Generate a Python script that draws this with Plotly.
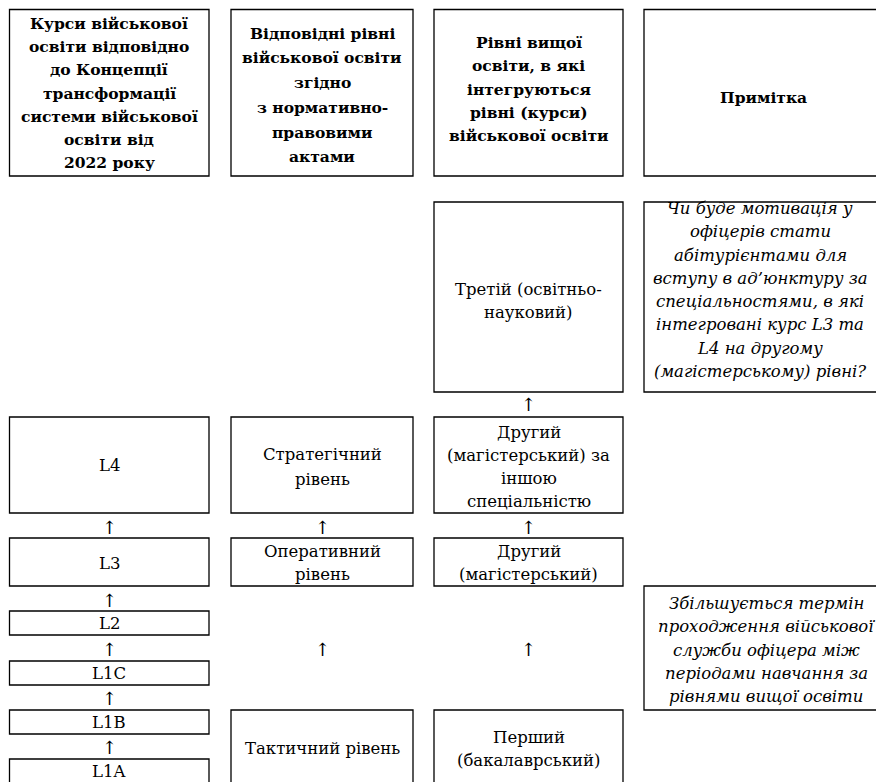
import plotly.graph_objects as go

# ---- content ----
header_texts = [
    ["Курси військової", "освіти відповідно", "до Концепції", "трансформації",
     "системи військової", "освіти від", "2022 року"],
    ["Відповідні рівні", "військової освіти", "згідно", "з нормативно-",
     "правовими", "актами"],
    ["Рівні вищої", "освіти, в які", "інтегруються", "рівні (курси)",
     "військової освіти"],
    ["Примітка"],
]

course_levels = ["L4", "L3", "L2", "L1C", "L1B", "L1A"]
military_levels = [["Стратегічний", "рівень"], ["Оперативний", "рівень"],
                   ["Тактичний рівень"]]
higher_levels = [["Третій (освітньо-", "науковий)"],
                 ["Другий", "(магістерський) за", "іншою", "спеціальністю"],
                 ["Другий", "(магістерський)"],
                 ["Перший", "(бакалаврський)"]]
notes = [
    ["Чи буде мотивація у", "офіцерів стати", "абітурієнтами для",
     "вступу в ад’юнктуру за", "спеціальностями, в які",
     "інтегровані курс L3 та", "L4 на другому", "(магістерському) рівні?"],
    ["Збільшується термін", "проходження військової", "служби офіцера між",
     "періодами навчання за", "рівнями вищої освіти"],
]
arrow_symbol = "↑"

# ---- layout geometry (page pixels, y downward) ----
W, H = 884, 782
PAGE_MARGIN = 8          # default body margin of the html page
COL = [(9.5, 209), (231, 413), (434, 623), (644, None)]
FONT = "DejaVu Serif"
BODY_SIZE = 16.5
HEAD_SIZE = 15.5

fig = go.Figure()
shapes = []
annotations = []


def outline(x0, x1, y0, y1):
    # open sides where the box runs off the page (x1 or y1 is None)
    if x1 is None:
        path = f"M {W+40},{y0} L {x0},{y0} L {x0},{y1} L {W+40},{y1}"
    elif y1 is None:
        path = f"M {x0},{H+40} L {x0},{y0} L {x1},{y0} L {x1},{H+40}"
    else:
        path = f"M {x0},{y0} L {x1},{y0} L {x1},{y1} L {x0},{y1} Z"
    shapes.append(dict(type="path", xref="x", yref="y", path=path,
                       line=dict(color="black", width=1.3)))


def box(col, y0, y1, lines, cy=None, cx=None, spacing=23.3, style="normal", size=BODY_SIZE):
    x0, x1 = COL[col]
    outline(x0, x1, y0, y1)
    if cy is None:
        cy = (y0 + y1) / 2
    if cx is None:
        cx = (x0 + x1) / 2
    n = len(lines)
    for i, t in enumerate(lines):
        y = cy + (i - (n - 1) / 2) * spacing
        txt = t
        if style == "bold":
            txt = "<b>" + t + "</b>"
        elif style == "italic":
            txt = "<i>" + t + "</i>"
        annotations.append(dict(x=cx, y=y, xref="x", yref="y", text=txt,
                                showarrow=False, xanchor="center", yanchor="middle",
                                font=dict(family=FONT, size=size, color="black")))


def arrow(col, y):
    x0, x1 = COL[col]
    annotations.append(dict(x=(x0 + x1) / 2, y=y, xref="x", yref="y", text=arrow_symbol,
                            showarrow=False, xanchor="center", yanchor="middle",
                            font=dict(family=FONT, size=18, color="black")))


# headers
box(0, 9.5, 176, header_texts[0], style="bold", cy=93, spacing=23.3, size=HEAD_SIZE)
box(1, 9.5, 176, header_texts[1], style="bold", cy=95, spacing=24.7, size=HEAD_SIZE)
box(2, 9.5, 176, header_texts[2], style="bold", cy=89, spacing=23.3, size=HEAD_SIZE)
box(3, 9.5, 176, header_texts[3], style="bold", cx=763, cy=97, size=HEAD_SIZE)

# column 1: courses
course_rows = [(417, 513), (538, 586), (611, 635), (661, 685), (710, 734), (759, None)]
course_cy = [465, 563, 623, 673, 722, 771]
for lab, (a, b), cy in zip(course_levels, course_rows, course_cy):
    box(0, a, b, [lab], cy=cy)
for y in [527, 600, 649, 698, 747]:
    arrow(0, y)

# column 2: military levels
box(1, 417, 513, military_levels[0], cy=467, spacing=25)
box(1, 538, 586, military_levels[1], cy=563, spacing=23)
box(1, 710, None, military_levels[2], cy=748)
for y in [527, 649]:
    arrow(1, y)

# column 3: higher education levels
box(2, 202, 392, higher_levels[0], cy=301)
box(2, 417, 513, higher_levels[1], cy=467)
box(2, 538, 586, higher_levels[2], cy=563)
box(2, 710, None, higher_levels[3], cy=749)
for y in [404, 527, 649]:
    arrow(2, y)

# column 4: notes
box(3, 202, 392, notes[0], cx=760, cy=290, style="italic")
box(3, 586, 710, notes[1], cx=766, cy=650, style="italic")

# the figure sits PAGE_MARGIN px into the page, so its axes start there
fig.update_layout(
    width=W, height=H,
    margin=dict(l=0, r=0, t=0, b=0),
    paper_bgcolor="white", plot_bgcolor="white",
    xaxis=dict(range=[PAGE_MARGIN, W + PAGE_MARGIN], visible=False, fixedrange=True),
    yaxis=dict(range=[H + PAGE_MARGIN, PAGE_MARGIN], visible=False, fixedrange=True),
    shapes=shapes, annotations=annotations, showlegend=False,
)

fig.write_html("out.html")
